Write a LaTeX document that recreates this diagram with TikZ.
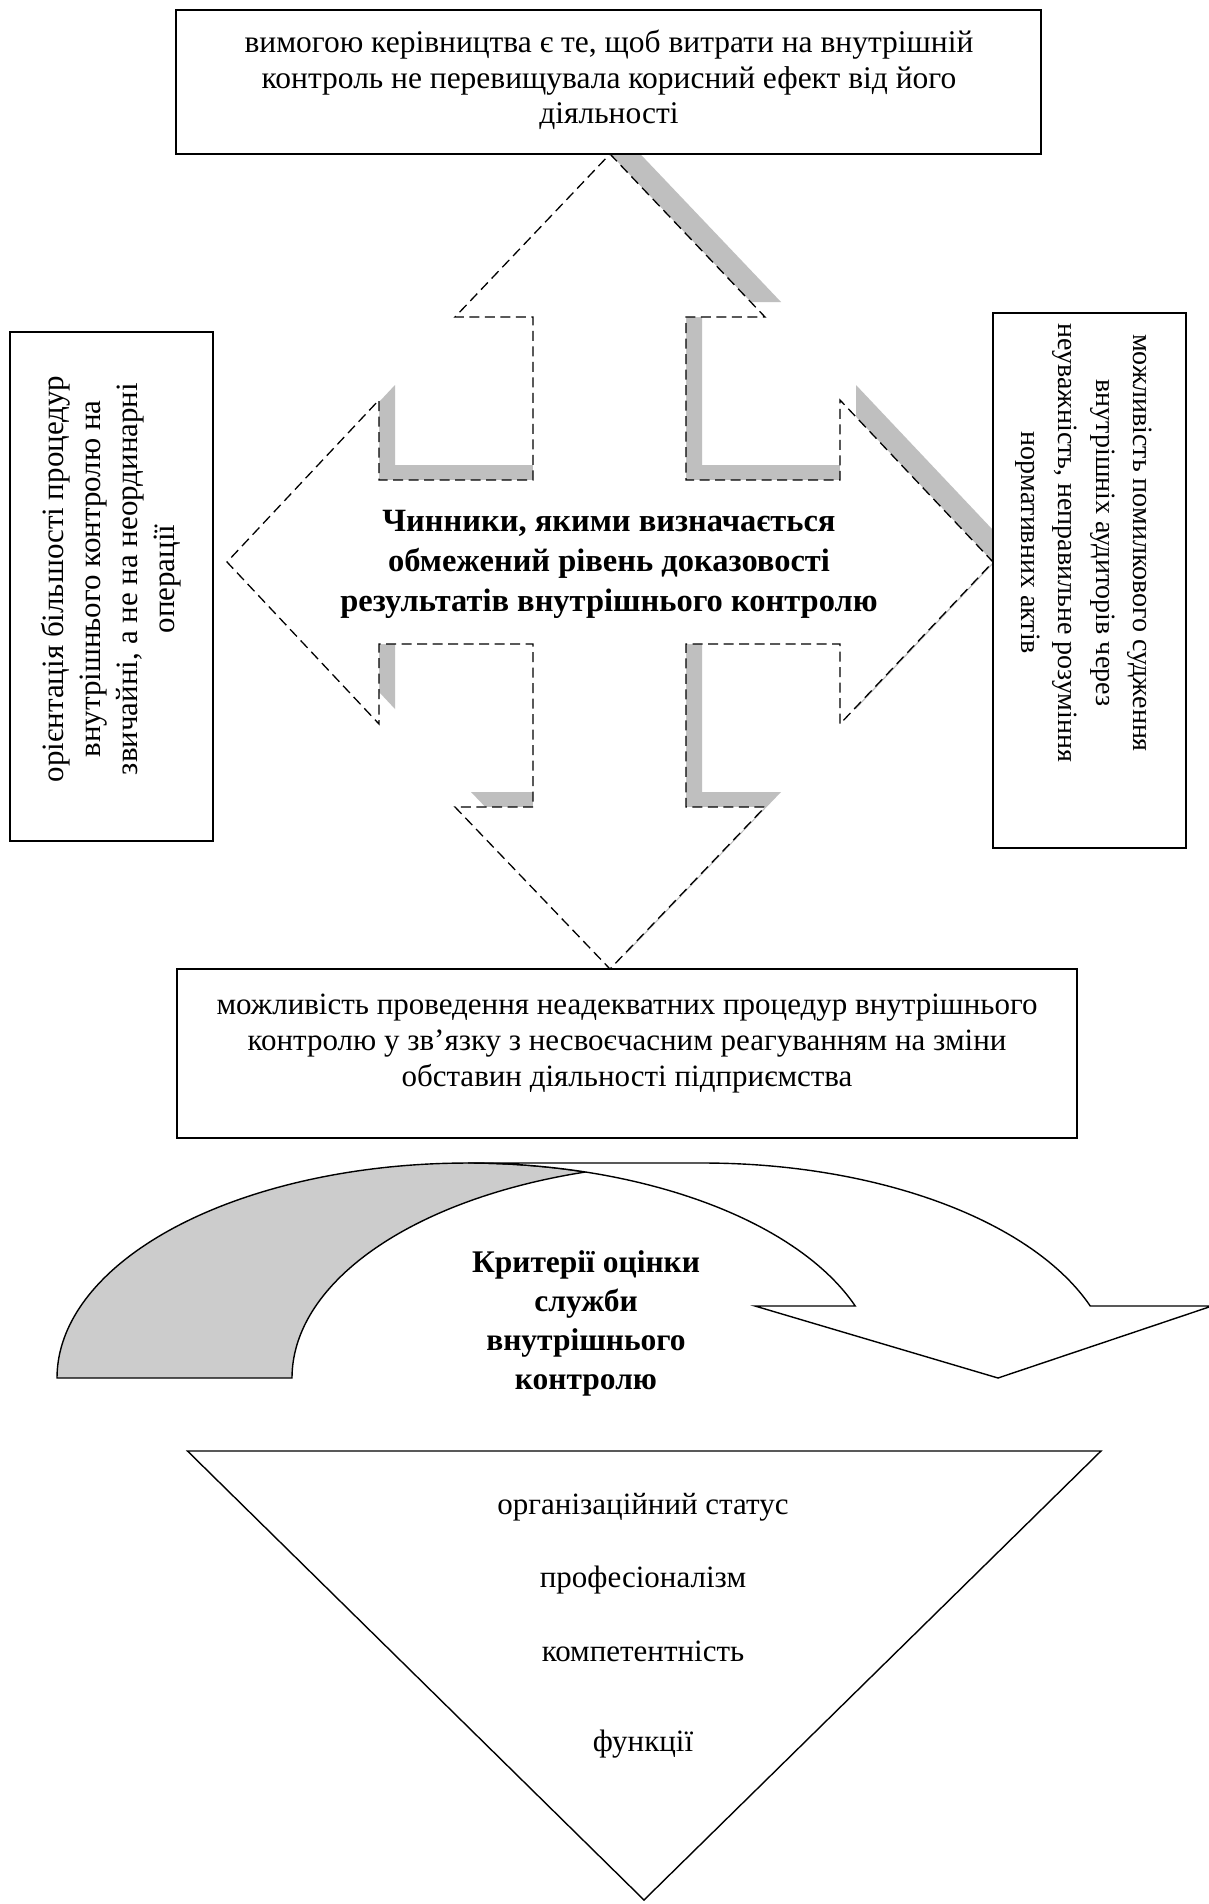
\documentclass[tikz,border=0pt]{standalone}
\usepackage{fontspec}
\setmainfont{Liberation Serif}
\begin{document}
\begin{tikzpicture}[x=1pt,y=-1pt]
\definecolor{shadowgray}{HTML}{BFBFBF}
\definecolor{arcgray}{HTML}{CCCCCC}
\tikzset{
  txt/.style={font=\fontsize{31}{36}\selectfont, align=center, inner sep=0pt},
  boldtxt/.style={font=\fontsize{31.5}{38.8}\selectfont\bfseries, align=center, inner sep=0pt},
  framebox/.style={draw, line width=1.5pt, fill=white, rectangle, inner sep=0pt},
  dashline/.style={draw, dash pattern=on 10pt off 5.5pt, line width=1.3pt},
  outline/.style={draw, line width=1.4pt},
}
\useasboundingbox (0,0) rectangle (1209,1904);
\fill[white] (0,0) rectangle (1209,1904);
\clip (0,0) rectangle (1209,1904);

% four-way arrow outline
\def\crossshape{(610,154) -- (765,317) -- (686,317) -- (686,480) -- (840,480) -- (840,400)
  -- (993,562) -- (840,724) -- (840,644) -- (686,644) -- (686,807) -- (765,807)
  -- (610,969) -- (455,807) -- (533,807) -- (533,644) -- (379,644) -- (379,724)
  -- (227,562) -- (379,400) -- (379,480) -- (533,480) -- (533,317) -- (455,317) -- cycle}
\fill[shadowgray, shift={(16,-15)}] \crossshape;
\path[dashline, fill=white] \crossshape;
\node[boldtxt, font=\fontsize{32.5}{40}\selectfont\bfseries] (factors) at (609,564) {Чинники, якими визначається\\обмежений рівень доказовості\\результатів внутрішнього контролю};

% surrounding boxes
\node[framebox, minimum width=865pt, minimum height=144pt] (costbox) at (608.5,82) {};
\node[txt, font=\fontsize{31.5}{35.5}\selectfont] (costtext) at (609,80) {вимогою керівництва є те, щоб витрати на внутрішній\\контроль не перевищувала корисний ефект від його\\діяльності};

\node[framebox, minimum width=203pt, minimum height=509pt] (leftbox) at (111.5,586.5) {};
\node[txt, rotate=90, font=\fontsize{31}{37}\selectfont] (lefttext) at (111,579) {орієнтація більшості процедур\\внутрішнього контролю на\\звичайні, а не на неординарні\\операції};

\node[framebox, minimum width=193pt, minimum height=535pt] (rightbox) at (1089.5,580.5) {};
\node[txt, rotate=-90, font=\fontsize{28}{37.5}\selectfont] (righttext) at (1084,543) {можливість помилкового судження\\внутрішніх аудиторів через\\неуважність, неправильне розуміння\\нормативних актів};

\node[framebox, minimum width=900pt, minimum height=169pt] (bottombox) at (627,1053.5) {};
\node[txt] (bottomtext) at (627,1044) {можливість проведення неадекватних процедур внутрішнього\\контролю у зв’язку з несвоєчасним реагуванням на зміни\\обставин діяльності підприємства};

% curved arrow: shaded back band and white front band with head
\path[outline, fill=arcgray]
  plot[domain=180:73.4, samples=90] ({468+411*cos(\x)},{1378-215*sin(\x)})
  -- plot[domain=106.6:180, samples=90] ({703+411*cos(\x)},{1378-215*sin(\x)}) -- cycle;
\path[outline, fill=white] (998,1378) -- (755,1306)
  -- plot[domain=19.57:90, samples=90] ({468+411*cos(\x)},{1378-215*sin(\x)})
  -- plot[domain=90:19.57, samples=90] ({703+411*cos(\x)},{1378-215*sin(\x)})
  -- (1212,1306) -- cycle;
\node[boldtxt] (criteria) at (586,1323.5) {Критерії оцінки\\служби\\внутрішнього\\контролю};

% inverted triangle with the criteria
\path[outline] (187.5,1451) -- (1101,1451) -- (644,1900) -- cycle;
\node[txt] (status) at (643,1507) {організаційний статус};
\node[txt] (profi) at (643,1580) {професіоналізм};
\node[txt] (compet) at (643,1651) {компетентність};
\node[txt] (funcs) at (643,1744) {функції};
\end{tikzpicture}
\end{document}
